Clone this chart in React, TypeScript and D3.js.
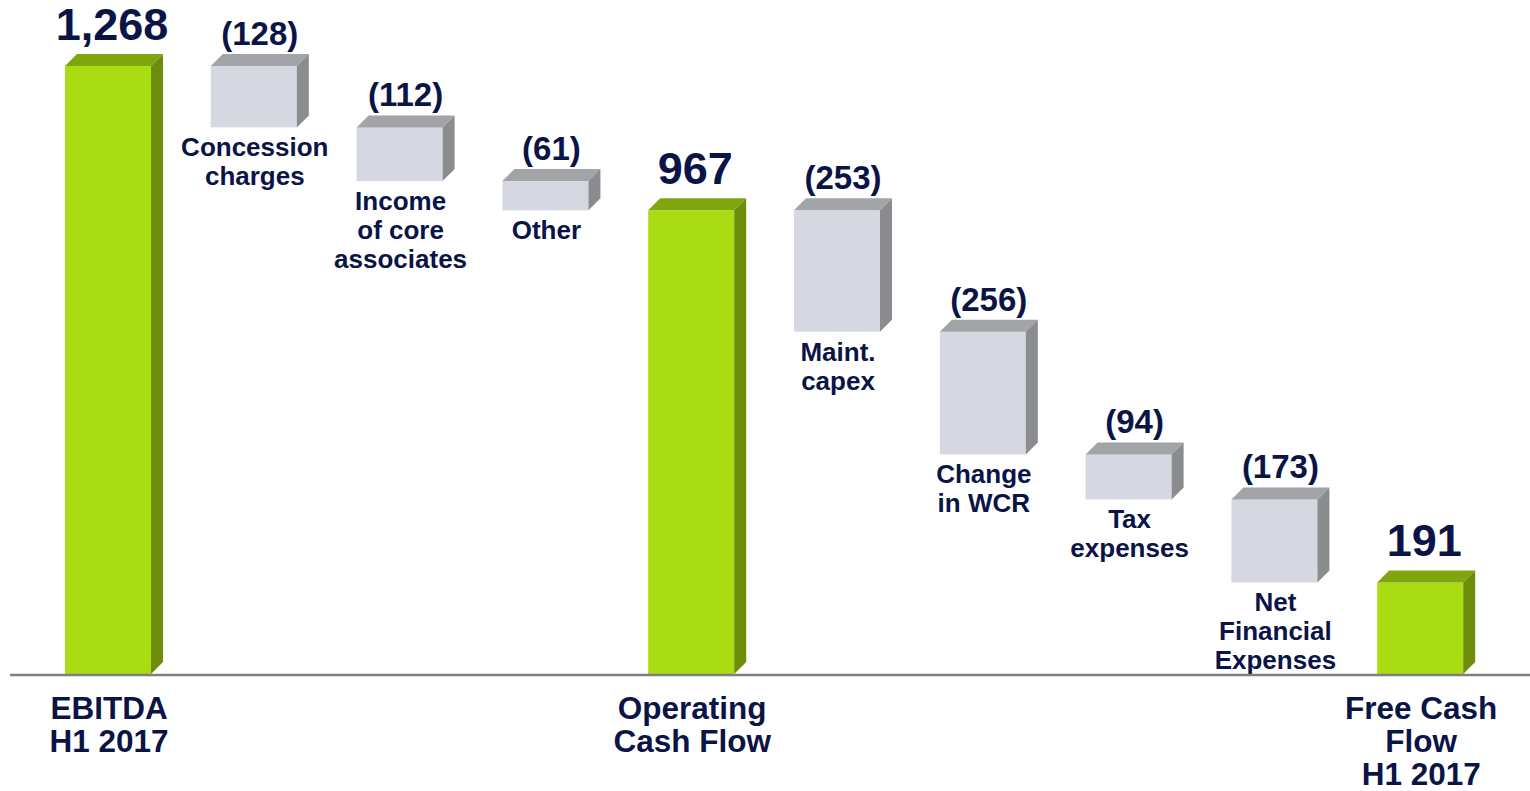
import React from "react";
import * as d3 from "d3";

const categories = [
  "EBITDA H1 2017",
  "Concession charges",
  "Income of core associates",
  "Other",
  "Operating Cash Flow",
  "Maint. capex",
  "Change in WCR",
  "Tax expenses",
  "Net Financial Expenses",
  "Free Cash Flow H1 2017",
];
const values = [1268, -128, -112, -61, 967, -253, -256, -94, -173, 191];
const isTotal = [true, false, false, false, true, false, false, false, false, true];
const valueLabels = ["1,268", "(128)", "(112)", "(61)", "967", "(253)", "(256)", "(94)", "(173)", "191"];
const labelLines = [
  ["EBITDA", "H1 2017"],
  ["Concession", "charges"],
  ["Income", "of core", "associates"],
  ["Other"],
  ["Operating", "Cash Flow"],
  ["Maint.", "capex"],
  ["Change", "in WCR"],
  ["Tax", "expenses"],
  ["Net", "Financial", "Expenses"],
  ["Free Cash", "Flow", "H1 2017"],
];

const W = 1530;
const H = 791;
const BASE = 674;
const DX = 12;
const DY = 12;
const NAVY = "#0b1446";
const FONT = "'Liberation Sans', Arial, Helvetica, sans-serif";

export default function App() {
  const x = d3
    .scaleBand<string>()
    .domain(categories)
    .range([35.1, 1493.1])
    .paddingInner(0.41)
    .paddingOuter(0.205);
  const y = d3.scaleLinear().domain([0, 1268]).range([BASE, 66]);
  const w = x.bandwidth();

  let running = 0;
  const segs = values.map((v, i) => {
    if (isTotal[i]) {
      running = v;
      return { top: v, bottom: 0 };
    }
    const top = running;
    running = running + v;
    return { top, bottom: running };
  });

  return (
    <svg width={W} height={H} style={{ position: "absolute", left: 0, top: 0 }} fontFamily={FONT}>
      <rect width={W} height={H} fill="#ffffff" />
      {segs.map((s, i) => {
        const x0 = x(categories[i]) as number;
        const yt = y(s.top);
        const yb = y(s.bottom);
        const total = isTotal[i];
        const front = total ? "#aadc14" : "#d5d8e0";
        const topC = total ? "#80a60f" : "#a3a4a8";
        const sideC = total ? "#6d8e0b" : "#8a8c90";
        const topPts = [
          [x0, yt],
          [x0 + DX, yt - DY],
          [x0 + w + DX, yt - DY],
          [x0 + w, yt],
        ];
        const sidePts = [
          [x0 + w, yt],
          [x0 + w + DX, yt - DY],
          [x0 + w + DX, yb - DY],
          [x0 + w, yb],
        ];
        const cx = x0 + w / 2;
        const lx = total ? cx + 1 : cx + 1;
        return (
          <g key={i}>
            <rect x={x0} y={yt} width={w} height={yb - yt} fill={front} />
            <polygon points={topPts.map((p) => p.join(",")).join(" ")} fill={topC} />
            <polygon points={sidePts.map((p) => p.join(",")).join(" ")} fill={sideC} />
            <text
              x={cx + (total ? 4 : 6)}
              y={yt - (total ? 26 : 21)}
              textAnchor="middle"
              fontWeight="bold"
              fontSize={total ? 45 : 33}
              fill={NAVY}
            >
              {valueLabels[i]}
            </text>
            <text
              x={lx}
              y={total ? 719 : yb + 29}
              textAnchor="middle"
              fontWeight="bold"
              fontSize={total ? 31.5 : 26}
              fill={NAVY}
            >
              {labelLines[i].map((ln, j) => (
                <tspan key={j} x={lx} dy={j === 0 ? 0 : total ? 33 : 29}>
                  {ln}
                </tspan>
              ))}
            </text>
          </g>
        );
      })}
      <line x1={10} x2={1530} y1={BASE + 1} y2={BASE + 1} stroke="#7f7f7f" strokeWidth={2.5} />
    </svg>
  );
}
